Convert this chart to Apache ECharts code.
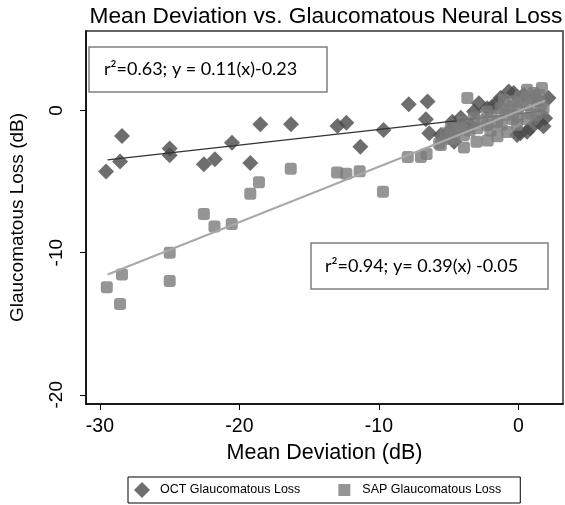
<!DOCTYPE html>
<html>
<head>
<meta charset="utf-8">
<script src="https://cdn.jsdelivr.net/npm/echarts@6/dist/echarts.min.js"></script>
<style>html,body{margin:0;padding:0;background:#fff}#c{width:565px;height:505px}</style>
</head>
<body>
<div id="c"></div>
<script>
// ---- data ----
const xTicks = [-30, -20, -10, 0];
const yTicks = [-20, -10, 0];
const octPoints = [
  [-29.56,-4.28],[-28.56,-3.59],[-28.42,-1.79],[-25.0,-2.67],[-25.0,-3.14],[-22.55,-3.78],[-21.76,-3.43],
  [-20.53,-2.27],[-19.22,-3.69],[-18.5,-0.97],[-16.3,-0.97],[-12.97,-1.08],[-12.33,-0.85],[-11.33,-2.55],
  [-9.67,-1.37],[-7.86,0.45],[-6.51,0.64],[-6.63,-0.61],[-6.39,-1.6],[-5.56,-1.72],[-4.13,-0.5],
  [-2.83,0.52],[-1.87,0.28],[-1.28,0.88],[-0.69,1.35],[0.14,-1.6],[0.86,-1.25],[1.92,-0.54],[2.16,0.88],
  [-3.42,-1.01],[-2.23,0.17],[-1.52,0.52],[-0.33,1.23],[0.38,1.11],[1.21,0.99],[-0.09,-1.72],[0.62,-1.49],
  [1.45,-0.78],[-4.73,-0.78],[-4.01,-1.01],[-3.18,-0.07],[-4.61,-2.2],[-5.0,-1.5],[1.8,-1.1]
];
const sapPoints = [
  [-29.51,-12.43],[-28.56,-13.62],[-28.42,-11.53],[-25.0,-10.0],[-25.0,-12.0],[-22.55,-7.28],[-21.79,-8.16],
  [-20.55,-7.99],[-19.22,-5.86],[-18.6,-5.04],[-16.32,-4.09],[-13.0,-4.35],[-12.33,-4.44],[-11.38,-4.27],
  [-9.71,-5.72],[-7.93,-3.26],[-6.58,-3.05],[-6.99,-3.26],[-5.68,-2.31],[-5.56,-2.43],[-4.85,-2.0],
  [-4.61,-1.96],[-4.37,-1.37],[-3.9,-1.72],[-2.94,-1.25],[-2.23,-1.01],[-1.52,-0.78],[-0.81,-0.3],
  [-0.09,0.17],[0.62,0.4],[1.33,0.64],[1.8,0.17],[-2.23,-0.07],[-1.28,0.17],[-0.33,0.64],[0.14,0.99],
  [1.09,1.23],[-3.18,-0.54],[-4.13,-1.25],[-4.85,-1.25],[-3.66,0.88],[0.62,1.47],[1.69,1.59],
  [-3.9,-2.6],[-3.0,-2.2],[-2.2,-2.1],[-1.5,-1.8],[-0.8,-1.5],[-0.1,-1.0],[0.6,-0.6],[1.3,-0.3],
  [-3.5,-1.4],[-2.6,-0.7],[-1.9,-0.4],[-1.0,0.0],[-0.5,0.3],[0.3,0.6],[1.0,0.9],[1.5,1.1],
  [-5.2,-1.6],[-4.0,-0.8],[0.0,-0.4],[0.9,-0.2],[1.6,0.4],[-2.0,-1.4],[-1.2,-1.0],[-0.4,-0.6],[-1.05,0.76]
];
// regression fits: [slope, intercept, xStart, xEnd]
const octFit = [0.11, -0.23, -29.45, 1.9];
const sapFit = [0.39, -0.05, -29.45, 1.9];
const octLabel = 'r²=0.63; y = 0.11(x)-0.23';
const sapLabel = 'r²=0.94; y= 0.39(x) -0.05';

function fitLine(f){ return [[f[2], f[0]*f[2]+f[1]], [f[3], f[0]*f[3]+f[1]]]; }

const chart = echarts.init(document.getElementById('c'), null, {renderer:'canvas'});
const axisFont = {fontFamily:'Liberation Sans', color:'#000'};
chart.setOption({
  animation:false,
  backgroundColor:'#fff',
  title:{
    text:'Mean Deviation vs. Glaucomatous Neural Loss',
    left:321, top:0, textAlign:'center',
    textStyle:{fontFamily:'Liberation Sans', fontWeight:'normal', fontSize:22.7, color:'#000'}
  },
  grid:{left:84, right:2, top:31, bottom:101, show:true, borderColor:'#333', borderWidth:1.5},
  xAxis:{
    type:'value', min:-31, max:3.2,
    name:'Mean Deviation (dB)', nameLocation:'middle', nameGap:36,
    nameTextStyle:Object.assign({fontSize:21.5}, axisFont),
    axisLine:{show:true, onZero:false, lineStyle:{color:'#000', width:1.5}},
    axisTick:{show:true, customValues:xTicks, length:6, lineStyle:{color:'#000'}},
    axisLabel:Object.assign({customValues:xTicks, fontSize:19.5, margin:13}, axisFont),
    splitLine:{show:false}
  },
  yAxis:{
    type:'value', min:-20.65, max:5.6,
    name:'Glaucomatous Loss (dB)', nameLocation:'middle', nameGap:59, nameRotate:90,
    nameTextStyle:Object.assign({fontSize:19}, axisFont),
    axisLine:{show:true, onZero:false, lineStyle:{color:'#000', width:1.5}},
    axisTick:{show:true, customValues:yTicks, length:6, lineStyle:{color:'#000'}},
    axisLabel:Object.assign({customValues:yTicks, fontSize:19, margin:20, rotate:90}, axisFont),
    splitLine:{show:false}
  },
  legend:{
    data:[
      {name:'OCT Glaucomatous Loss', icon:'path://M0,0M26,16M5,8L13,0L21,8L13,16Z'},
      {name:'SAP Glaucomatous Loss', icon:'path://M0,0M26,16M7,2h12v12h-12z'}
    ],
    left:128, top:477, itemWidth:26, itemHeight:16, itemGap:31,
    padding:[5,19,5,1],
    borderColor:'#000', borderWidth:1,
    textStyle:{fontFamily:'Liberation Sans', fontSize:12.5, color:'#000'}
  },
  series:[
    {name:'OCT Glaucomatous Loss', type:'scatter', data:octPoints, symbol:'diamond', symbolSize:16,
     itemStyle:{color:'#4a4a4a'}, z:2},
    {name:'OCT fit', type:'line', data:fitLine(octFit), symbol:'none', lineStyle:{color:'#333', width:1.5}, z:3},
    {name:'SAP Glaucomatous Loss', type:'scatter', data:sapPoints, symbol:'roundRect', symbolSize:12,
     itemStyle:{color:'#7b7b7b'}, z:4},
    {name:'SAP fit', type:'line', data:fitLine(sapFit), symbol:'none', lineStyle:{color:'#a8a8a8', width:2}, z:5}
  ],
  graphic:[
    {type:'rect', shape:{x:89, y:47, width:238, height:45}, style:{fill:'#fff', stroke:'#808080', lineWidth:1.5}, z:10},
    {type:'text', x:104, y:69.5, style:{text:octLabel, fontFamily:'Lato', fontSize:18, fill:'#000', textVerticalAlign:'middle'}, z:11},
    {type:'rect', shape:{x:311, y:243, width:237, height:46}, style:{fill:'#fff', stroke:'#808080', lineWidth:1.5}, z:10},
    {type:'text', x:325, y:266, style:{text:sapLabel, fontFamily:'Lato', fontSize:18, fill:'#000', textVerticalAlign:'middle'}, z:11}
  ]
});
</script>
</body>
</html>
